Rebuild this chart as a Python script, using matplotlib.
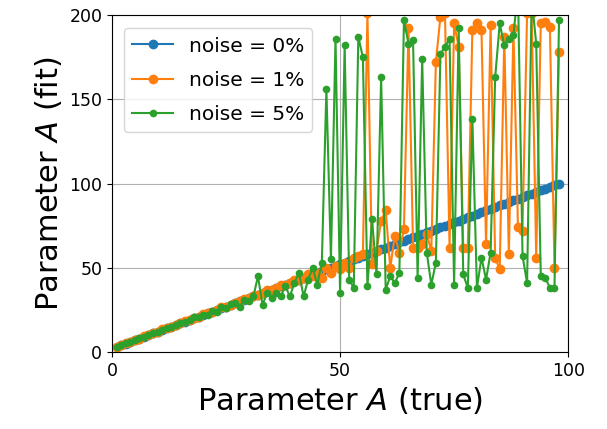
import matplotlib
matplotlib.use("Agg")
import matplotlib.pyplot as plt

# true parameter values (x axis)
a_true = [1, 2, 3, 4, 5, 6, 7, 8, 9, 10, 11, 12, 13, 14, 15, 16, 17, 18, 19, 20,
          21, 22, 23, 24, 25, 26, 27, 28, 29, 30, 31, 32, 33, 34, 35, 36, 37, 38, 39, 40,
          41, 42, 43, 44, 45, 46, 47, 48, 49, 50, 51, 52, 53, 54, 55, 56, 57, 58, 59, 60,
          61, 62, 63, 64, 65, 66, 67, 68, 69, 70, 71, 72, 73, 74, 75, 76, 77, 78, 79, 80,
          81, 82, 83, 84, 85, 86, 87, 88, 89, 90, 91, 92, 93, 94, 95, 96, 97, 98]

# fitted values, noise = 0%
fit_0 = [3, 4, 5, 6, 7, 8, 9, 10, 11, 12, 13, 14, 15, 16, 17, 18, 19, 20, 21, 22,
         23, 24, 25, 26, 27, 28, 29, 30, 31, 32, 33, 34, 35, 36, 37, 38, 39, 40, 41, 42,
         43, 44, 45, 46, 47, 48, 49, 50, 51, 52, 53, 54, 55, 56, 57, 58, 59, 60, 61, 62,
         63, 64, 65, 66, 67, 68, 69, 70, 71, 72, 73, 74, 75, 76, 77, 78, 79, 80, 81, 82,
         83, 84, 85, 86, 87, 88, 89, 90, 91, 92, 93, 94, 95, 96, 97, 98, 99, 100]

# fitted values, noise = 1%
fit_1 = [3, 4, 5.5, 6, 7, 8, 9.5, 10, 11, 12, 13.5, 14, 15, 16, 17, 18.5, 19, 20, 21, 22.5,
         23, 24, 25, 26.5, 27, 28, 29, 30, 31.5, 32, 33, 34, 35, 36.5, 37, 38, 39.5, 40, 41, 43,
         43, 44, 46, 45, 47, 44, 50, 47, 51, 49, 53, 50, 56, 57, 58, 201, 52, 60, 78, 84,
         50, 69, 59, 73, 192, 62, 62, 64, 70, 60, 172, 199, 201, 62, 195, 181, 62, 62, 191, 195,
         191, 64, 194, 56, 49, 187, 58, 192, 74, 72, 201, 201, 56, 195, 196, 193, 50, 178]

# fitted values, noise = 5%
fit_5 = [3, 4, 5.5, 6, 7, 8.5, 9, 10, 11.5, 12, 13, 14.5, 15, 16, 17.5, 18, 19, 20.5, 21, 22,
         22, 24.5, 24, 27, 26, 28.5, 29, 27, 31, 30, 33, 45, 28, 35, 32, 35, 33, 39, 33, 41,
         47, 33, 43, 50, 40, 53, 156, 55, 186, 35, 182, 43, 38, 187, 175, 39, 79, 46, 163, 37,
         45, 41, 47, 197, 183, 185, 44, 174, 59, 40, 53, 177, 181, 186, 40, 192, 46, 38, 138, 38,
         56, 43, 59, 163, 195, 182, 186, 188, 215, 57, 41, 210, 183, 45, 44, 38, 38, 197]

fig = plt.figure(figsize=(6.07, 4.29), dpi=100)
ax = fig.add_axes([0.1845, 0.1795, 0.7515, 0.7855])

ax.plot(a_true, fit_0, marker='o', markersize=6, linewidth=1.5, label='noise = 0%')
ax.plot(a_true, fit_1, marker='o', markersize=6, linewidth=1.5, label='noise = 1%')
ax.plot(a_true, fit_5, marker='o', markersize=4.5, linewidth=1.5, label='noise = 5%')

ax.set_xlim(0, 100)
ax.set_ylim(0, 200)
ax.set_xticks([0, 50, 100])
ax.set_yticks([0, 50, 100, 150, 200])
ax.tick_params(labelsize=12.5)
ax.grid(True, color='#b0b0b0', linewidth=0.8)
ax.set_xlabel('Parameter $A$ (true)', fontsize=22)
ax.set_ylabel('Parameter $A$ (fit)', fontsize=22)
ax.legend(loc='upper left', fontsize=14.5, labelspacing=0.75,
          bbox_to_anchor=(0.005, 0.99))

fig.savefig('out.png', dpi=100)
